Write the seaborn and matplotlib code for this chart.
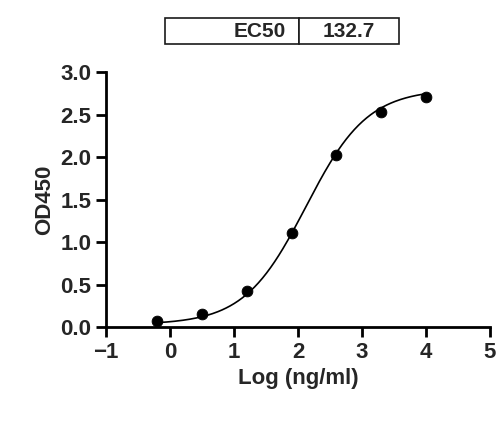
import numpy as np
import pandas as pd
import seaborn as sns
import matplotlib
matplotlib.use("Agg")
import matplotlib.pyplot as plt

log_conc = [-0.2, 0.5, 1.2, 1.9, 2.6, 3.3, 4.0]
od450 = [0.07, 0.16, 0.43, 1.11, 2.02, 2.53, 2.71]
ec50_label = "EC50"
ec50_value = "132.7"
bottom, top, log_ec50, hill = 0.03, 2.80, np.log10(132.7), 0.9

sns.set_theme(style="ticks")
plt.rcParams['font.family'] = ['Liberation Sans', 'DejaVu Sans']
fig = plt.figure(figsize=(5, 4.21), dpi=100)
ax = fig.add_axes([0.212, 0.223, 0.768, 0.606])

xs = np.linspace(-0.2, 4.0, 200)
ys = bottom + (top - bottom) / (1 + 10 ** ((log_ec50 - xs) * hill))
ax.plot(xs, ys, color="black", lw=1.2)
sns.scatterplot(x=log_conc, y=od450, ax=ax, color="black", s=60, edgecolor="black", zorder=3)

ax.set_xlim(-1, 5)
ax.set_ylim(0, 3)
ax.set_xticks(range(-1, 6))
ax.set_yticks(np.arange(0, 3.01, 0.5))
ax.set_yticklabels([f"{v:.1f}" for v in np.arange(0, 3.01, 0.5)])
ax.set_xlabel("Log (ng/ml)", fontsize=16, fontweight="bold")
ax.set_ylabel("OD450", fontsize=16, fontweight="bold")
for lab in ax.get_xticklabels() + ax.get_yticklabels():
    lab.set_fontweight("bold")
ax.tick_params(labelsize=16, width=2, length=7, color="black")
for s in ["left", "bottom"]:
    ax.spines[s].set_linewidth(2)
    ax.spines[s].set_color("black")
sns.despine(ax=ax)

tab = ax.table(cellText=[[ec50_label, ec50_value]], colWidths=[0.35, 0.26],
               bbox=[0.153, 1.11, 0.61, 0.1], cellLoc="right")
tab.auto_set_font_size(False)
for (r, c), cell in tab.get_celld().items():
    cell.set_linewidth(1.2)
    cell.get_text().set_fontweight("bold")
    cell.get_text().set_fontsize(15)
    cell.get_text().set_ha("right" if c == 0 else "center")
    if c == 1:
        cell._loc = "center"
fig.savefig("out.png", dpi=100)
